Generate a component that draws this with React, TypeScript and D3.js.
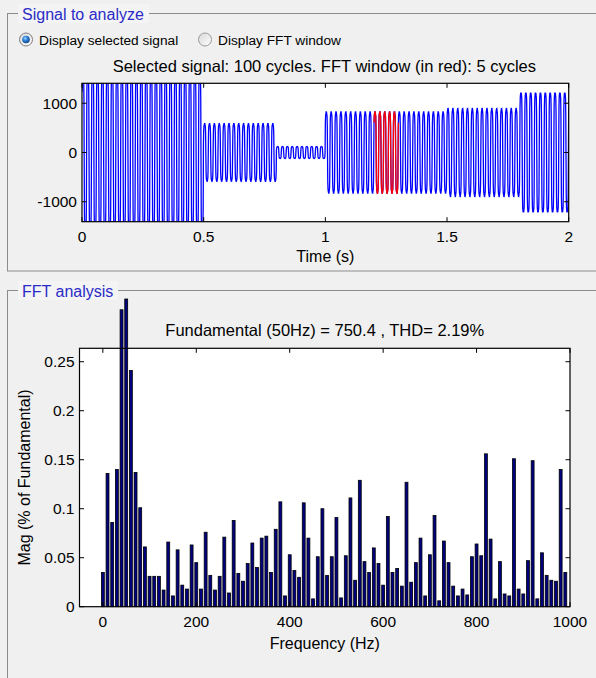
import React from "react";
import * as d3 from "d3";

// ---------- DATA ----------
// Time-domain signal: segments (s) and peak amplitudes
const segStart = [0, 0.5, 0.8, 1.0, 1.5, 1.8];
const segEnd = [0.5, 0.8, 1.0, 1.5, 1.8, 2.0];
const segAmp = [1650, 575, 120, 810, 875, 1215];
const fundamentalHz = 50;
const harmonicOrder = [1, 3, 5, 7];
const harmonicRatio = [1, 0.22, 0.08, 0.03];
const fftWindow = [1.2, 1.3];

// FFT spectrum (% of fundamental), 0..990 Hz step 10 Hz
const fftFreqs = [
  0, 10, 20, 30, 40, 50, 60, 70, 80, 90,
  100, 110, 120, 130, 140, 150, 160, 170, 180, 190,
  200, 210, 220, 230, 240, 250, 260, 270, 280, 290,
  300, 310, 320, 330, 340, 350, 360, 370, 380, 390,
  400, 410, 420, 430, 440, 450, 460, 470, 480, 490,
  500, 510, 520, 530, 540, 550, 560, 570, 580, 590,
  600, 610, 620, 630, 640, 650, 660, 670, 680, 690,
  700, 710, 720, 730, 740, 750, 760, 770, 780, 790,
  800, 810, 820, 830, 840, 850, 860, 870, 880, 890,
  900, 910, 920, 930, 940, 950, 960, 970, 980, 990,
];
const fftMags = [
  0.035, 0.136, 0.086, 0.140, 0.303, 0.314, 0.241, 0.137, 0.101, 0.061,
  0.031, 0.031, 0.031, 0.017, 0.066, 0.011, 0.058, 0.022, 0.018, 0.063,
  0.045, 0.018, 0.076, 0.032, 0.017, 0.031, 0.071, 0.014, 0.088, 0.034,
  0.026, 0.044, 0.065, 0.040, 0.070, 0.072, 0.035, 0.079, 0.107, 0.011,
  0.053, 0.037, 0.030, 0.106, 0.070, 0.008, 0.051, 0.100, 0.032, 0.051,
  0.091, 0.009, 0.052, 0.111, 0.027, 0.129, 0.046, 0.035, 0.060, 0.044,
  0.022, 0.092, 0.035, 0.039, 0.021, 0.127, 0.025, 0.045, 0.070, 0.011,
  0.053, 0.093, 0.006, 0.067, 0.045, 0.021, 0.011, 0.018, 0.012, 0.051,
  0.064, 0.052, 0.156, 0.069, 0.008, 0.046, 0.013, 0.011, 0.151, 0.018,
  0.013, 0.047, 0.149, 0.008, 0.055, 0.032, 0.027, 0.026, 0.140, 0.035,
];

const timeTicks = [0, 0.5, 1, 1.5, 2];
const sigTicks = [-1000, 0, 1000];
const freqTicks = [0, 200, 400, 600, 800, 1000];
const magTicks = [0, 0.05, 0.1, 0.15, 0.2, 0.25];

const topTitle = "Selected signal: 100 cycles. FFT window (in red): 5 cycles";
const fftTitle = "Fundamental (50Hz) = 750.4 , THD= 2.19%";

// ---------- LAYOUT ----------
const W = 596;
const H = 678;
const FONT = "'Liberation Sans', Arial, Helvetica, sans-serif";

const top = { l: 82, r: 568.7, t: 83.3, b: 221.7 };
const bot = { l: 79.5, r: 570, t: 348.3, b: 606.7 };

function shape(t: number) {
  let v = 0;
  harmonicOrder.forEach((h, j) => {
    v += harmonicRatio[j] * Math.sin(2 * Math.PI * fundamentalHz * h * t);
  });
  return v;
}

function buildSignal() {
  const fs = 1000;
  // peak of the normalised wave shape over one cycle
  let peak = 0;
  for (let i = 0; i < 400; i++) peak = Math.max(peak, Math.abs(shape(i / 400 / fundamentalHz)));
  const pts: [number, number][] = [];
  const n = Math.round(2 * fs);
  for (let i = 0; i <= n; i++) {
    const t = i / fs;
    let k = segStart.findIndex((s, j) => t >= s && t < segEnd[j]);
    if (k < 0) k = segStart.length - 1;
    pts.push([t, (segAmp[k] * shape(t + 0.0011)) / peak]);
  }
  return pts;
}

export default function App() {
  const xT = d3.scaleLinear().domain([0, 2]).range([top.l, top.r]);
  const yT = d3.scaleLinear().domain([-1405, 1405]).range([top.b, top.t]);
  const xF = d3.scaleLinear().domain([-50, 1000]).range([bot.l, bot.r]);
  const yF = d3.scaleLinear().domain([0, 0.2637]).range([bot.b, bot.t]);

  const sig = buildSignal();
  const line = d3
    .line<[number, number]>()
    .x((d) => xT(d[0]))
    .y((d) => yT(d[1]));
  const blue = line(sig) || "";
  const red = line(sig.filter((d) => d[0] >= fftWindow[0] - 1e-9 && d[0] <= fftWindow[1] + 1e-9)) || "";

  const barW = 2.9;
  const tl = 4.5;

  return (
    <div style={{ position: "absolute", left: 0, top: 0 }}>
      <svg width={W} height={H} style={{ display: "block", fontFamily: FONT }}>
        <defs>
          <clipPath id="clipTop">
            <rect x={top.l} y={top.t} width={top.r - top.l} height={top.b - top.t} />
          </clipPath>
          <radialGradient id="radSel" cx="40%" cy="35%" r="70%">
            <stop offset="0%" stopColor="#9fd4ff" />
            <stop offset="45%" stopColor="#2a7fd4" />
            <stop offset="100%" stopColor="#0b3c7a" />
          </radialGradient>
          <linearGradient id="radBg" x1="0" y1="0" x2="1" y2="1">
            <stop offset="0%" stopColor="#d8d8d8" />
            <stop offset="100%" stopColor="#ffffff" />
          </linearGradient>
        </defs>
        <rect x={0} y={0} width={W} height={H} fill="#f0f0f0" />

        {/* Panel 1 */}
        <rect x={7.5} y={13.5} width={600} height={257.5} fill="none" stroke="#8c8c8c" />
        <rect x={18} y={4} width={131} height={19} fill="#f4f4f4" />
        <text x={22} y={20} fontSize={16} fill="#2b2bc8">Signal to analyze</text>

        {/* Radio buttons */}
        <circle cx={26} cy={39.5} r={6.5} fill="url(#radBg)" stroke="#7d7d7d" />
        <circle cx={26} cy={39.5} r={3.8} fill="url(#radSel)" />
        <text x={39} y={44.5} fontSize={13.7} fill="#000">Display selected signal</text>
        <circle cx={205} cy={39.5} r={6.5} fill="url(#radBg)" stroke="#9a9a9a" />
        <text x={218} y={44.5} fontSize={13.7} fill="#000">Display FFT window</text>

        {/* Top axes */}
        <text x={(top.l + top.r) / 2 - 1} y={72} fontSize={16.5} textAnchor="middle">{topTitle}</text>
        <rect x={top.l} y={top.t} width={top.r - top.l} height={top.b - top.t} fill="#fff" />
        <g clipPath="url(#clipTop)">
          <path d={blue} fill="none" stroke="#0000ff" strokeWidth={1.3} />
          <path d={red} fill="none" stroke="#ff0000" strokeWidth={1.3} />
        </g>
        {timeTicks.map((t) => (
          <g key={"tt" + t}>
            <line x1={xT(t)} x2={xT(t)} y1={top.b} y2={top.b - tl} stroke="#000" />
            <line x1={xT(t)} x2={xT(t)} y1={top.t} y2={top.t + tl} stroke="#000" />
            <text x={xT(t)} y={242} fontSize={15.5} textAnchor="middle">{String(t)}</text>
          </g>
        ))}
        {sigTicks.map((v) => (
          <g key={"st" + v}>
            <line x1={top.l} x2={top.l + tl} y1={yT(v)} y2={yT(v)} stroke="#000" />
            <line x1={top.r} x2={top.r - tl} y1={yT(v)} y2={yT(v)} stroke="#000" />
            <text x={top.l - 5} y={yT(v) + 5.5} fontSize={15.5} textAnchor="end">{String(v)}</text>
          </g>
        ))}
        <rect x={top.l} y={top.t} width={top.r - top.l} height={top.b - top.t} fill="none" stroke="#000" strokeWidth={1.2} />
        <text x={(top.l + top.r) / 2} y={262} fontSize={16} textAnchor="middle">Time (s)</text>

        {/* Panel 2 */}
        <rect x={7.5} y={290.5} width={600} height={420} fill="none" stroke="#8c8c8c" />
        <rect x={18} y={281} width={100} height={19} fill="#f4f4f4" />
        <text x={22} y={297} fontSize={16} fill="#2b2bc8">FFT analysis</text>

        <text x={(bot.l + bot.r) / 2} y={336} fontSize={16.5} textAnchor="middle">{fftTitle}</text>
        <rect x={bot.l} y={bot.t} width={bot.r - bot.l} height={bot.b - bot.t} fill="#fff" />
        {fftFreqs.map((f, i) => (
          <rect
            key={"b" + f}
            x={xF(f) - barW / 2}
            y={yF(fftMags[i])}
            width={barW}
            height={yF(0) - yF(fftMags[i])}
            fill="#000080"
            stroke="#000"
            strokeWidth={0.8}
          />
        ))}
        {freqTicks.map((f) => (
          <g key={"ft" + f}>
            <line x1={xF(f)} x2={xF(f)} y1={bot.b} y2={bot.b - tl} stroke="#000" />
            <line x1={xF(f)} x2={xF(f)} y1={bot.t} y2={bot.t + tl} stroke="#000" />
            <text x={xF(f)} y={627} fontSize={15.5} textAnchor="middle">{String(f)}</text>
          </g>
        ))}
        {magTicks.map((v) => (
          <g key={"mt" + v}>
            <line x1={bot.l} x2={bot.l + tl} y1={yF(v)} y2={yF(v)} stroke="#000" />
            <line x1={bot.r} x2={bot.r - tl} y1={yF(v)} y2={yF(v)} stroke="#000" />
            <text x={bot.l - 5} y={yF(v) + 5.5} fontSize={15.5} textAnchor="end">{String(v)}</text>
          </g>
        ))}
        <rect x={bot.l} y={bot.t} width={bot.r - bot.l} height={bot.b - bot.t} fill="none" stroke="#000" strokeWidth={1.2} />
        <text x={(bot.l + bot.r) / 2} y={649} fontSize={16} textAnchor="middle">Frequency (Hz)</text>
        <text
          transform={`translate(30, ${(bot.t + bot.b) / 2}) rotate(-90)`}
          fontSize={16}
          textAnchor="middle"
        >
          Mag (% of Fundamental)
        </text>
      </svg>
    </div>
  );
}
